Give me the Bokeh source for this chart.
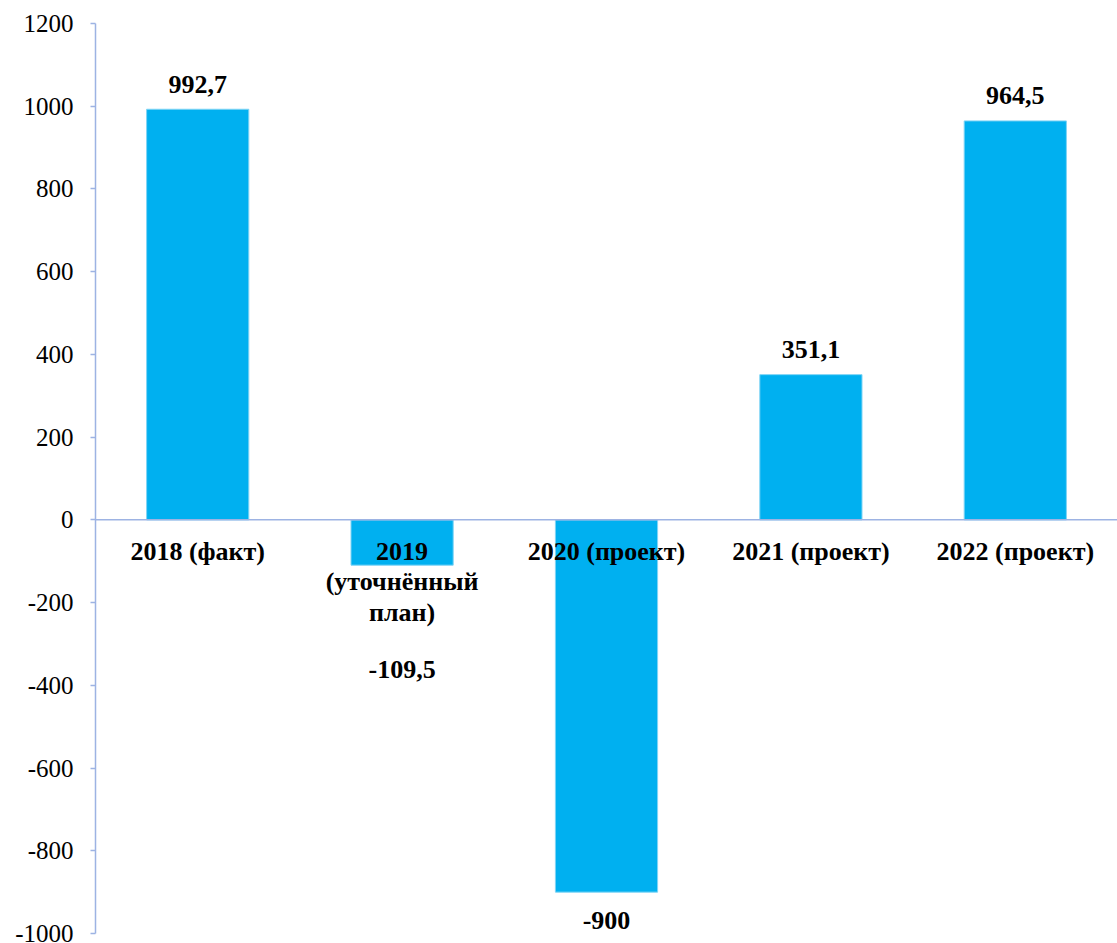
from bokeh.plotting import figure
from bokeh.models import FactorRange, ColumnDataSource, Span, FixedTicker
from bokeh.core.properties import value
from bokeh.embed import file_html
from bokeh.resources import INLINE

categories = ["2018 (факт)", "2019 (уточнённый план)", "2020 (проект)", "2021 (проект)", "2022 (проект)"]
category_labels = ["2018 (факт)", "2019\n(уточнённый\nплан)", "2020 (проект)", "2021 (проект)", "2022 (проект)"]
values = [992.7, -109.5, -900.0, 351.1, 964.5]
value_labels = ["992,7", "-109,5", "-900", "351,1", "964,5"]
y_ticks = [-1000, -800, -600, -400, -200, 0, 200, 400, 600, 800, 1000, 1200]
y_tick_labels = ["-1000", "-800", "-600", "-400", "-200", "0", "200", "400", "600", "800", "1000", "1200"]

# styles
label_offsets = [-25, 96, 20, -25, -25]
label_baselines = ["alphabetic" if v >= 0 else "top" for v in values]

FONT = "Liberation Serif"
AXIS_COLOR = "#9DB3E3"
BAR_COLOR = "#00B0F0"

p = figure(
    width=1117, height=943,
    x_range=FactorRange(*categories, range_padding=0),
    y_range=(-1000, 1200),
    x_axis_location=None,
    output_backend="svg", toolbar_location=None,
    min_border_left=95, min_border_right=0, min_border_top=23, min_border_bottom=10,
)
p.outline_line_color = None
p.grid.visible = False
p.background_fill_color = "white"

src = ColumnDataSource(dict(cat=categories, val=values, vlab=value_labels,
                            off=label_offsets, base=label_baselines, clab=category_labels,
                            zero=[0] * len(categories)))

p.vbar(x="cat", top="val", bottom=0, width=0.5, source=src,
       fill_color=BAR_COLOR, line_color="#7FD4F5", line_width=1)

p.add_layout(Span(location=0, dimension="width", line_color=AXIS_COLOR, line_width=1.5))

p.text(x="cat", y="val", text="vlab", y_offset="off", text_baseline="base",
       text_align="center", source=src, text_font=value(FONT),
       text_font_size="26px", text_font_style="bold", text_color="black")

p.text(x="cat", y="zero", text="clab", y_offset=17, text_baseline="top",
       text_align="center", source=src, text_font=value(FONT),
       text_font_size="26px", text_font_style="bold", text_color="black",
       text_line_height=1.05)

ax = p.yaxis[0]
ax.ticker = FixedTicker(ticks=y_ticks)
ax.major_label_overrides = {t: s for t, s in zip(y_ticks, y_tick_labels)}
ax.axis_line_color = AXIS_COLOR
ax.axis_line_width = 1.5
ax.major_tick_line_color = AXIS_COLOR
ax.major_tick_line_width = 1.5
ax.major_tick_out = 5
ax.major_tick_in = 0
ax.minor_tick_line_color = None
ax.major_label_standoff = 17
ax.major_label_text_font = FONT
ax.major_label_text_font_size = "25px"
ax.major_label_text_color = "black"

open("out.html", "w").write(file_html(p, INLINE))
